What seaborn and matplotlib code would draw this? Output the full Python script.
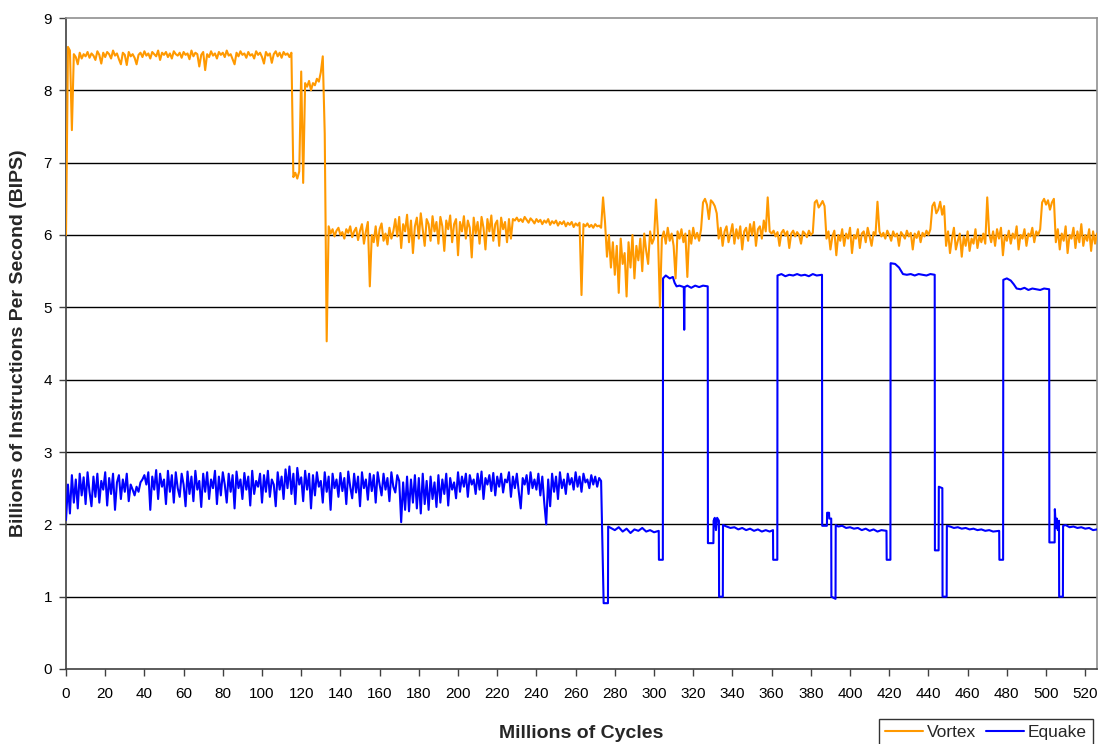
import numpy as np
import pandas as pd
import matplotlib
matplotlib.use("Agg")
import matplotlib.pyplot as plt
from matplotlib.lines import Line2D
import seaborn as sns

# Vortex BIPS, one sample per million cycles (0..526)
vortex_bips = [
    6.00, 8.60, 8.55, 7.45, 8.50, 8.46, 8.36, 8.52, 8.44, 8.50,
    8.47, 8.53, 8.45, 8.51, 8.48, 8.42, 8.54, 8.49, 8.37, 8.52,
    8.46, 8.53, 8.50, 8.44, 8.55, 8.48, 8.51, 8.43, 8.36, 8.52,
    8.49, 8.35, 8.53, 8.47, 8.50, 8.45, 8.36, 8.49, 8.52, 8.46,
    8.54, 8.48, 8.51, 8.44, 8.53, 8.50, 8.47, 8.55, 8.42, 8.52,
    8.49, 8.53, 8.46, 8.51, 8.44, 8.54, 8.50, 8.48, 8.52, 8.45,
    8.53, 8.49, 8.51, 8.43, 8.55, 8.47, 8.52, 8.50, 8.33, 8.49,
    8.53, 8.28, 8.50, 8.46, 8.54, 8.48, 8.51, 8.44, 8.53, 8.49,
    8.52, 8.46, 8.55, 8.48, 8.50, 8.43, 8.36, 8.52, 8.47, 8.54,
    8.49, 8.51, 8.45, 8.53, 8.48, 8.50, 8.44, 8.54, 8.49, 8.52,
    8.46, 8.37, 8.53, 8.48, 8.51, 8.38, 8.50, 8.54, 8.47, 8.52,
    8.45, 8.53, 8.49, 8.51, 8.46, 8.52, 6.80, 6.86, 6.78, 6.88,
    8.26, 6.72, 8.10, 8.05, 8.13, 8.00, 8.10, 8.07, 8.16, 8.12,
    8.25, 8.47, 7.40, 4.53, 6.12, 6.02, 6.08, 5.98, 6.06, 6.10,
    6.00, 6.04, 5.95, 6.08, 6.03, 6.12, 5.97, 6.05, 6.10, 5.93,
    6.06, 6.15, 5.88, 6.05, 6.18, 5.29, 6.00, 5.90, 6.12, 5.85,
    6.08, 6.16, 5.92, 6.02, 5.87, 6.10, 5.95, 6.05, 6.22, 5.98,
    6.25, 5.82, 6.15, 6.05, 6.28, 5.90, 6.20, 5.75, 6.12, 6.24,
    5.95, 6.30, 6.08, 5.85, 6.22, 6.15, 5.92, 6.26, 6.05, 6.18,
    5.88, 6.25, 6.12, 5.78, 6.20, 6.08, 6.27, 5.90, 6.15, 6.22,
    5.72, 6.18, 6.05, 6.26, 5.95, 6.20, 6.10, 5.69, 6.24, 6.02,
    6.18, 5.88, 6.25, 6.10, 5.80, 6.22, 6.05, 6.27, 5.92, 6.15,
    6.20, 5.85, 6.24, 6.08, 6.18, 5.90, 6.22, 5.95, 6.22, 6.20,
    6.24, 6.19, 6.22, 6.18, 6.25, 6.21, 6.17, 6.23, 6.20, 6.16,
    6.22, 6.18, 6.21, 6.15, 6.20, 6.17, 6.22, 6.14, 6.19, 6.16,
    6.20, 6.13, 6.18, 6.15, 6.19, 6.12, 6.17, 6.14, 6.18, 6.11,
    6.16, 6.13, 6.17, 5.17, 6.15, 6.12, 6.16, 6.11, 6.14, 6.10,
    6.15, 6.12, 6.13, 6.10, 6.52, 6.18, 5.70, 6.00, 5.55, 5.90,
    5.45, 5.85, 5.20, 5.95, 5.60, 5.75, 5.15, 5.90, 5.55, 6.00,
    5.40, 5.85, 5.65, 5.95, 5.50, 6.02, 5.78, 5.60, 6.05, 5.88,
    5.95, 6.49, 6.02, 5.01, 5.95, 6.05, 5.88, 6.10, 5.92, 6.02,
    5.85, 5.40, 6.05, 5.95, 6.08, 5.90, 6.02, 5.42, 6.06, 5.88,
    6.10, 5.95, 6.03, 5.92, 6.08, 6.45, 6.50, 6.42, 6.22, 6.48,
    6.45, 6.40, 6.30, 5.95, 6.10, 5.85, 6.05, 6.12, 5.90, 6.02,
    6.15, 5.88, 6.08, 5.95, 6.12, 5.80, 6.05, 6.10, 5.92, 6.15,
    6.00, 6.18, 5.85, 6.08, 6.12, 5.95, 6.20, 6.05, 6.52, 6.05,
    6.02, 6.06, 5.98, 6.04, 5.85, 6.03, 6.07, 5.99, 6.05, 5.82,
    6.02, 6.06, 5.98, 6.04, 6.00, 5.88, 6.05, 6.02, 5.97, 6.06,
    6.00, 6.03, 6.45, 6.48, 6.38, 6.42, 6.47, 6.40, 5.95, 6.05,
    5.80, 5.98, 6.06, 5.72, 6.00, 5.92, 6.08, 5.85, 6.02, 5.95,
    6.10, 5.75, 6.00, 5.95, 6.08, 5.82, 6.02, 6.05, 5.90, 6.10,
    5.98, 5.85, 6.04, 6.00, 6.46, 6.05, 5.98, 6.03, 5.95, 6.06,
    6.00, 5.92, 6.05, 5.98, 6.02, 5.85, 6.04, 6.00, 5.95, 6.06,
    5.98, 6.03, 5.80, 6.02, 5.96, 6.05, 5.90, 6.03, 5.98, 6.06,
    6.00, 6.08, 6.40, 6.45, 6.30, 6.35, 6.46, 6.28, 6.40, 5.85,
    6.05, 5.75, 5.95, 6.10, 5.80, 5.92, 6.02, 5.70, 5.98, 5.85,
    6.05, 5.78, 5.95, 5.88, 6.08, 5.82, 5.98, 5.90, 6.02, 5.88,
    6.52, 6.02, 5.90, 6.05, 5.85, 6.08, 5.95, 6.10, 5.72, 6.00,
    5.92, 6.06, 5.88, 6.02, 5.95, 6.12, 5.80, 6.00, 5.95, 6.08,
    5.85, 6.02, 5.98, 6.10, 5.90, 6.05, 6.00, 6.08, 6.45, 6.50,
    6.42, 6.48, 6.35, 6.45, 6.50, 5.90, 6.08, 5.80, 6.02, 5.92,
    6.12, 5.75, 6.00, 5.95, 6.10, 5.82, 6.05, 5.90, 6.15, 5.85,
    6.00, 5.92, 6.08, 5.78, 6.05, 5.88, 6.02,
]

# Equake BIPS, noisy phase, one sample per million cycles (0..273)
equake_noisy_bips = [
    2.06, 2.55, 2.15, 2.68, 2.30, 2.62, 2.22, 2.70, 2.40, 2.65,
    2.28, 2.72, 2.45, 2.25, 2.66, 2.38, 2.70, 2.30, 2.60, 2.48,
    2.72, 2.26, 2.64, 2.42, 2.70, 2.20, 2.58, 2.68, 2.35, 2.62,
    2.45, 2.70, 2.32, 2.55, 2.48, 2.40, 2.52, 2.45, 2.58, 2.62,
    2.68, 2.55, 2.72, 2.20, 2.66, 2.48, 2.75, 2.35, 2.70, 2.52,
    2.62, 2.28, 2.74, 2.45, 2.68, 2.30, 2.72, 2.50, 2.38, 2.70,
    2.55, 2.25, 2.73, 2.42, 2.66, 2.32, 2.74, 2.48, 2.60, 2.24,
    2.70, 2.45, 2.72, 2.35, 2.62, 2.50, 2.74, 2.28, 2.66, 2.40,
    2.72, 2.55, 2.30, 2.70, 2.45, 2.68, 2.22, 2.73, 2.50, 2.62,
    2.35, 2.71, 2.48, 2.66, 2.26, 2.74, 2.42, 2.60, 2.52, 2.70,
    2.30, 2.68, 2.45, 2.74, 2.38, 2.62, 2.55, 2.25, 2.72, 2.48,
    2.66, 2.35, 2.76, 2.50, 2.80, 2.42, 2.70, 2.28, 2.78, 2.55,
    2.65, 2.32, 2.74, 2.48, 2.70, 2.22, 2.68, 2.40, 2.72, 2.52,
    2.60, 2.30, 2.72, 2.45, 2.66, 2.20, 2.70, 2.50, 2.62, 2.38,
    2.71, 2.46, 2.64, 2.28, 2.73, 2.52, 2.36, 2.70, 2.44, 2.66,
    2.25, 2.72, 2.50, 2.62, 2.34, 2.70, 2.46, 2.68, 2.30, 2.72,
    2.55, 2.40, 2.70, 2.48, 2.64, 2.32, 2.72, 2.52, 2.44, 2.68,
    2.60, 2.03, 2.58, 2.20, 2.66, 2.18, 2.62, 2.30, 2.68, 2.22,
    2.64, 2.15, 2.70, 2.28, 2.60, 2.20, 2.66, 2.35, 2.58, 2.24,
    2.68, 2.30, 2.62, 2.42, 2.70, 2.26, 2.64, 2.48, 2.58, 2.36,
    2.72, 2.45, 2.66, 2.52, 2.70, 2.38, 2.68, 2.55, 2.62, 2.42,
    2.70, 2.48, 2.73, 2.35, 2.64, 2.55, 2.68, 2.46, 2.71, 2.40,
    2.66, 2.52, 2.70, 2.44, 2.62, 2.58, 2.72, 2.38, 2.66, 2.50,
    2.70, 2.45, 2.22, 2.64, 2.55, 2.68, 2.42, 2.72, 2.50, 2.62,
    2.48, 2.70, 2.40, 2.66, 2.30, 2.00, 2.62, 2.25, 2.70, 2.45,
    2.66, 2.35, 2.72, 2.50, 2.62, 2.42, 2.70, 2.55, 2.64, 2.48,
    2.72, 2.52, 2.66, 2.45, 2.70, 2.58, 2.62, 2.50, 2.68, 2.55,
    2.66, 2.52, 2.64, 2.60,
]

# Equake phase-switching part (million cycles, BIPS)
equake_phase_cycles = [
    274.3, 276.5, 276.6, 278, 280, 282, 284, 286, 288, 290, 292, 294, 296, 298, 300, 302.4,
    302.5, 304.5, 304.6, 306, 308, 309.6, 310.5, 311.5, 313, 315.2, 315.4, 315.6, 317, 319,
    321, 323, 325, 327.4,
    327.5, 330.3, 330.4, 331, 331.6, 332.2, 333.1, 333.2, 335.1, 335.2, 337, 339, 341, 343,
    345, 347, 349, 351, 353, 355, 357, 359, 360.7,
    360.8, 362.9, 363.0, 365, 367, 369, 371, 373, 375, 377, 379, 381, 383, 385.7,
    385.8, 388.2, 388.3, 389.3, 389.4, 390.4, 390.5, 392.6, 392.7, 394, 396, 398, 400, 402,
    404, 406, 408, 410, 412, 414, 416, 418.6,
    418.7, 420.6, 420.7, 423, 425, 427, 429, 431, 433, 435, 437, 439, 441, 443.2,
    443.3, 445.2, 445.3, 447.1, 447.2, 449.3, 449.4, 451, 453, 455, 457, 459, 461, 463,
    465, 467, 469, 471, 473, 476.1,
    476.2, 478.1, 478.2, 480, 482, 483.5, 485, 487, 489, 491, 493, 495, 497, 499, 501.6,
    501.7, 504.4, 504.5, 505, 505.5, 506, 506.6, 506.7, 508.6, 508.7, 510, 512, 514, 516,
    518, 520, 522, 524, 526,
]
equake_phase_bips = [
    0.91, 0.91, 1.97, 1.95, 1.92, 1.96, 1.90, 1.94, 1.88, 1.93, 1.91, 1.95, 1.90, 1.92, 1.89, 1.91,
    1.51, 1.51, 5.40, 5.44, 5.40, 5.42, 5.34, 5.29, 5.30, 5.28, 4.69, 5.28, 5.30, 5.27,
    5.30, 5.28, 5.30, 5.29,
    1.74, 1.74, 2.05, 2.09, 1.92, 2.09, 2.05, 1.00, 1.00, 1.99, 1.97, 1.95, 1.96, 1.93,
    1.95, 1.92, 1.94, 1.91, 1.93, 1.90, 1.92, 1.90, 1.92,
    1.51, 1.51, 5.44, 5.46, 5.43, 5.45, 5.44, 5.46, 5.44, 5.45, 5.43, 5.46, 5.44, 5.45,
    1.98, 1.98, 2.16, 2.16, 2.08, 2.08, 1.00, 0.97, 1.99, 1.97, 1.98, 1.95, 1.96, 1.94,
    1.95, 1.92, 1.94, 1.91, 1.93, 1.90, 1.92, 1.91,
    1.51, 1.51, 5.61, 5.60, 5.55, 5.46, 5.45, 5.46, 5.44, 5.46, 5.45, 5.44, 5.46, 5.45,
    1.64, 1.64, 2.52, 2.50, 1.00, 1.00, 1.98, 1.97, 1.95, 1.96, 1.94, 1.95, 1.93, 1.94,
    1.92, 1.93, 1.91, 1.92, 1.90, 1.91,
    1.51, 1.51, 5.38, 5.40, 5.37, 5.32, 5.26, 5.25, 5.27, 5.24, 5.26, 5.25, 5.24, 5.26, 5.25,
    1.75, 1.75, 2.21, 1.95, 2.08, 1.92, 2.05, 1.00, 1.00, 1.98, 1.99, 1.96, 1.97, 1.95,
    1.96, 1.94, 1.95, 1.92, 1.93,
]

vortex_df = pd.DataFrame({"cycles": np.arange(len(vortex_bips)), "bips": vortex_bips})
equake_df = pd.DataFrame({
    "cycles": list(np.arange(len(equake_noisy_bips))) + equake_phase_cycles,
    "bips": equake_noisy_bips + equake_phase_bips,
})

sns.set_style("white")
plt.rcParams["font.family"] = ["Liberation Sans", "DejaVu Sans"]

fig = plt.figure(figsize=(11.07, 7.44), dpi=100)
ax = fig.add_axes([66 / 1107, 1 - 669 / 744, (1097 - 66) / 1107, (669 - 18) / 744])

orange = "#FF9900"
blue = "#0000FF"

sns.lineplot(data=equake_df, x="cycles", y="bips", ax=ax, color=blue, lw=1.5,
             estimator=None, sort=False, zorder=3)
sns.lineplot(data=vortex_df, x="cycles", y="bips", ax=ax, color=orange, lw=1.5,
             estimator=None, sort=False, zorder=4)

ax.set_xlim(0, 526)
ax.set_ylim(0, 9)
ax.set_xticks(np.arange(0, 521, 20))
ax.set_yticks(np.arange(0, 10, 1))
ax.tick_params(axis="both", labelsize=11, direction="out", length=5, width=1,
               colors="#404040", labelcolor="black", pad=5)
ax.tick_params(axis="x", bottom=True, pad=8)
ax.tick_params(axis="y", left=True)

for y in range(1, 9):
    ax.axhline(y, color="black", lw=1, zorder=1)

for side in ["left", "bottom"]:
    ax.spines[side].set_color("#404040")
    ax.spines[side].set_linewidth(1.2)
for side in ["top", "right"]:
    ax.spines[side].set_color("#909090")
    ax.spines[side].set_linewidth(1.2)

ax.set_xlabel("Millions of Cycles", fontsize=14, fontweight="bold", labelpad=17)
ax.set_ylabel("Billions of Instructions Per Second (BIPS)", fontsize=14,
              fontweight="bold", labelpad=12)

handles = [Line2D([], [], color=orange, lw=1.5), Line2D([], [], color=blue, lw=1.5)]
leg = fig.legend(handles, ["Vortex", "Equake"], loc="upper right", ncol=2,
                 bbox_to_anchor=(1093 / 1107, 1 - 719 / 744), fontsize=12.5,
                 frameon=True, fancybox=False, edgecolor="black", borderpad=0.35,
                 borderaxespad=0.0, handlelength=2.2, handletextpad=0.2,
                 columnspacing=0.6)
leg.get_frame().set_linewidth(1.0)

fig.savefig("out.png", dpi=100)
